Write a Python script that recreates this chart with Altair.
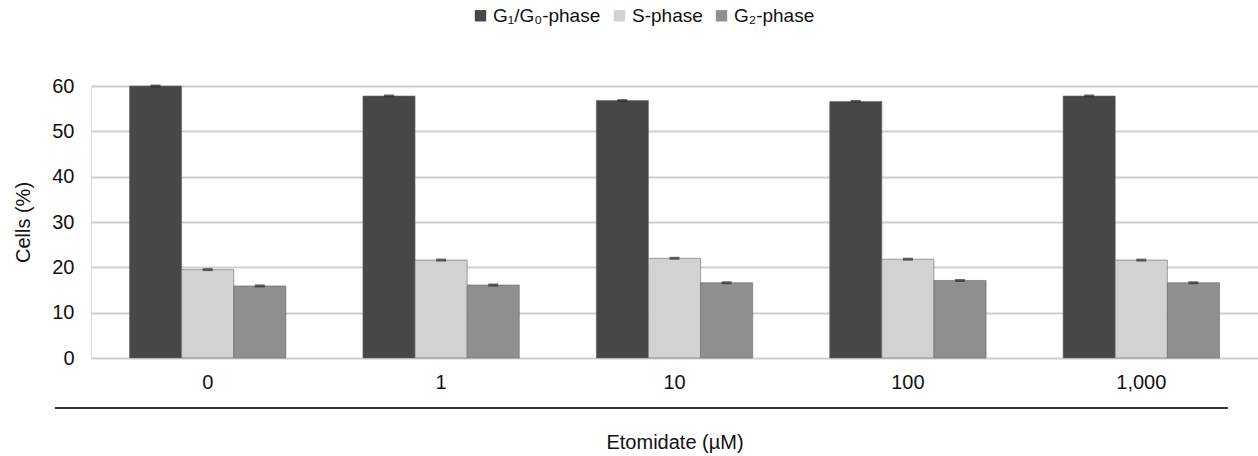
import altair as alt
import pandas as pd

doses = ["0", "1", "10", "100", "1,000"]
phases = ["G\u2081/G\u2080-phase", "S-phase", "G\u2082-phase"]
g1_vals = [60.0, 57.8, 56.8, 56.6, 57.8]
s_vals = [19.5, 21.6, 22.0, 21.8, 21.6]
g2_vals = [15.9, 16.1, 16.6, 17.1, 16.6]
err = [0.2, 0.2, 0.2, 0.2, 0.2]
colors = ["#474747", "#d2d2d2", "#8f8f8f"]

rows = []
for i, d in enumerate(doses):
    for p, vals in zip(phases, [g1_vals, s_vals, g2_vals]):
        rows.append({"dose": d, "phase": p, "value": vals[i], "err": err[i]})
df = pd.DataFrame(rows)

W, H = 1167, 272
FONT = "Liberation Sans"
FS = 20

x = alt.X("dose:N", sort=doses,
          scale=alt.Scale(paddingInner=0.33, paddingOuter=0.165),
          axis=alt.Axis(title="Etomidate (µM)", labelAngle=0, ticks=False, domain=False,
                        labelPadding=14, titlePadding=40, labelFontSize=FS, titleFontSize=FS,
                        labelFont=FONT, titleFont=FONT, labelColor="#111", titleColor="#111",
                        titleFontWeight="normal"))
xo = alt.XOffset("phase:N", sort=phases)

bars = alt.Chart(df).mark_bar(stroke="#6a6a6a", strokeWidth=0.6).encode(
    x=x, xOffset=xo,
    y=alt.Y("value:Q", scale=alt.Scale(domain=[0, 60], nice=False),
            axis=alt.Axis(title="Cells (%)", values=[0, 10, 20, 30, 40, 50, 60], ticks=False,
                          domain=False, labelPadding=17, titlePadding=18, labelFontSize=FS,
                          titleFontSize=FS, labelFont=FONT, titleFont=FONT, labelColor="#111",
                          titleColor="#111", titleFontWeight="normal",
                          gridColor="#cfcfcf", gridWidth=2)),
    color=alt.Color("phase:N", sort=phases,
                    scale=alt.Scale(domain=phases, range=colors),
                    legend=alt.Legend(title=None, orient="none", direction="horizontal",
                                      legendX=380, legendY=-80, symbolType="square",
                                      symbolSize=130, symbolStrokeWidth=0, labelFontSize=19,
                                      labelFont=FONT, labelColor="#111", columnPadding=9,
                                      labelOffset=3)),
)

errbars = alt.Chart(df).mark_tick(color="#2b2b2b", thickness=3, size=10).encode(
    x=x, xOffset=xo, y="value:Q",
)

line = alt.Chart(pd.DataFrame({"a": [0]})).mark_rule(color="#333", strokeWidth=2, clip=False).encode(
    x=alt.value(-36), x2=alt.value(1137), y=alt.value(H + 50)
)

chart = alt.layer(bars, errbars, line).properties(
    width=W, height=H,
    autosize=alt.AutoSizeParams(type="none"),
    padding={"left": 91, "top": 86, "right": 0, "bottom": 98},
).configure_view(stroke=None).configure(background="white")

chart.save("out.html", embed_options={"renderer": "svg", "actions": False})
